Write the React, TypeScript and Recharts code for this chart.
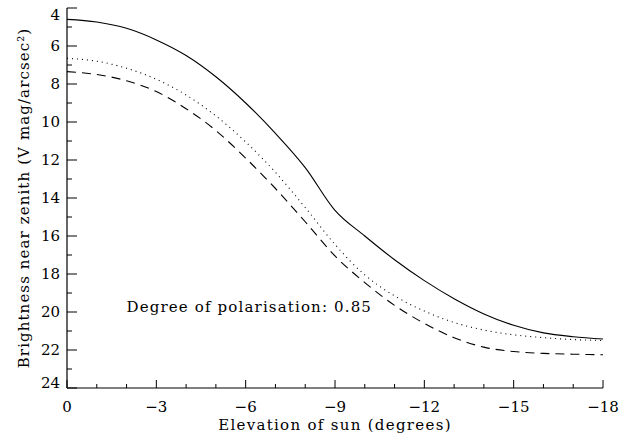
import React from "react";
import { LineChart, Line, XAxis, YAxis, ReferenceDot, Label } from "recharts";

// sun elevation (degrees) and zenith sky brightness (V mag/arcsec^2)
const elevation = [0, -1, -2, -3, -4, -5, -6, -7, -8, -9, -10, -11, -12, -13, -14, -15, -16, -17, -18];
const brightnessSolid = [4.6, 4.74, 5.07, 5.68, 6.5, 7.62, 9.0, 10.6, 12.4, 14.65, 16.0, 17.25, 18.35, 19.3, 20.1, 20.7, 21.1, 21.3, 21.42];
const brightnessDotted = [6.65, 6.8, 7.17, 7.75, 8.58, 9.68, 11.05, 12.65, 14.5, 16.45, 18.05, 19.15, 19.95, 20.55, 20.95, 21.2, 21.35, 21.45, 21.5];
const brightnessDashed = [7.35, 7.5, 7.83, 8.4, 9.3, 10.45, 11.9, 13.5, 15.25, 17.05, 18.45, 19.65, 20.6, 21.35, 21.85, 22.08, 22.18, 22.22, 22.25];

const xTicks = [0, -1, -2, -3, -4, -5, -6, -7, -8, -9, -10, -11, -12, -13, -14, -15, -16, -17, -18];
const yTicks = [4, 5, 6, 7, 8, 9, 10, 11, 12, 13, 14, 15, 16, 17, 18, 19, 20, 21, 22, 23, 24];

const data = elevation.map((e, i) => ({
  e,
  solid: brightnessSolid[i],
  dotted: brightnessDotted[i],
  dashed: brightnessDashed[i],
}));

const FONT = "'DejaVu Serif', serif";
const INK = "#000";

const fmtX = (v: number) => (v === 0 ? "0" : "\u2212" + Math.abs(v));

const BottomTick = (props: any) => {
  const { x, y, payload } = props;
  const major = payload.value % 3 === 0;
  return (
    <g>
      <line x1={x} y1={y} x2={x} y2={y - (major ? 8 : 4)} stroke={INK} />
      {major && (
        <text x={x} y={y + 24} textAnchor="middle" fontFamily={FONT} fontSize={15} fill={INK}>
          {fmtX(payload.value)}
        </text>
      )}
    </g>
  );
};

const TopTick = (props: any) => {
  const { x, y, payload } = props;
  const major = payload.value % 3 === 0;
  return <line x1={x} y1={y} x2={x} y2={y + (major ? 8 : 4)} stroke={INK} />;
};

const LeftTick = (props: any) => {
  const { x, y, payload } = props;
  const major = payload.value % 2 === 0;
  // first and last labels are kept inside the frame
  let base = y + 5;
  if (payload.value === 4) base = y + 12;
  if (payload.value === 24) base = y;
  return (
    <g>
      <line x1={x} y1={y} x2={x + (major ? 10 : 5)} y2={y} stroke={INK} />
      {major && (
        <text x={x - 7} y={base} textAnchor="end" fontFamily={FONT} fontSize={15} fill={INK}>
          {payload.value}
        </text>
      )}
    </g>
  );
};

const RightTick = (props: any) => {
  const { x, y, payload } = props;
  const major = payload.value % 2 === 0;
  return <line x1={x} y1={y} x2={x - (major ? 10 : 5)} y2={y} stroke={INK} />;
};

const YTitle = (props: any) => {
  const vb = props.viewBox;
  const cx = 29;
  const cy = vb.y + vb.height / 2;
  return (
    <text
      x={cx}
      y={cy}
      transform={`rotate(-90, ${cx}, ${cy})`}
      textAnchor="middle"
      fontFamily={FONT}
      fontSize={15}
      letterSpacing={1.1}
      fill={INK}
    >
      Brightness near zenith (V mag/arcsec²)
    </text>
  );
};

const XTitle = (props: any) => {
  const vb = props.viewBox;
  return (
    <text
      x={vb.x + vb.width / 2}
      y={vb.y + 42}
      textAnchor="middle"
      fontFamily={FONT}
      fontSize={15}
      letterSpacing={1.3}
      fill={INK}
    >
      Elevation of sun (degrees)
    </text>
  );
};

const Annotation = (props: any) => {
  const vb = props.viewBox;
  return (
    <text x={vb.x} y={vb.y} fontFamily={FONT} fontSize={15} letterSpacing={1.15} fill={INK}>
      Degree of polarisation: 0.85
    </text>
  );
};

export default function App() {
  return (
    <div style={{ position: "absolute", left: 0, top: 0, background: "#fff" }}>
      <LineChart
        width={639}
        height={438}
        data={data}
        margin={{ top: 8, right: 36, bottom: 0, left: 0 }}
        style={{ fontFamily: FONT }}
      >
        <XAxis
          dataKey="e"
          type="number"
          domain={[-18, 0]}
          reversed
          allowDataOverflow
          ticks={xTicks}
          interval={0}
          tick={<BottomTick />}
          tickLine={false}
          tickSize={0}
          tickMargin={0}
          height={50}
          axisLine={{ stroke: INK, strokeWidth: 1.2 }}
        >
          <Label content={<XTitle />} />
        </XAxis>
        <XAxis
          xAxisId="top"
          orientation="top"
          dataKey="e"
          type="number"
          domain={[-18, 0]}
          reversed
          allowDataOverflow
          ticks={xTicks}
          interval={0}
          tick={<TopTick />}
          tickLine={false}
          tickSize={0}
          tickMargin={0}
          height={0}
          axisLine={{ stroke: INK, strokeWidth: 1.2 }}
        />
        <YAxis
          type="number"
          domain={[4, 24]}
          reversed
          allowDataOverflow
          ticks={yTicks}
          interval={0}
          tick={<LeftTick />}
          tickLine={false}
          tickSize={0}
          tickMargin={0}
          width={67}
          axisLine={{ stroke: INK, strokeWidth: 1.2 }}
        >
          <Label content={<YTitle />} />
        </YAxis>
        <YAxis
          yAxisId="right"
          orientation="right"
          type="number"
          domain={[4, 24]}
          reversed
          allowDataOverflow
          ticks={yTicks}
          interval={0}
          tick={<RightTick />}
          tickLine={false}
          tickSize={0}
          tickMargin={0}
          width={0}
          axisLine={{ stroke: INK, strokeWidth: 1.2 }}
        />
        <Line
          name="solid"
          type="monotone"
          dataKey="solid"
          stroke={INK}
          strokeWidth={1.1}
          dot={false}
          activeDot={false}
          isAnimationActive={false}
        />
        <Line
          name="dotted"
          type="monotone"
          dataKey="dotted"
          stroke={INK}
          strokeWidth={1.1}
          strokeDasharray="1 4"
          dot={false}
          activeDot={false}
          isAnimationActive={false}
        />
        <Line
          name="dashed"
          type="monotone"
          dataKey="dashed"
          stroke={INK}
          strokeWidth={1.1}
          strokeDasharray="9 6"
          dot={false}
          activeDot={false}
          isAnimationActive={false}
        />
        <ReferenceDot x={-2} y={20} r={0} fill="none" stroke="none" label={<Annotation />} />
      </LineChart>
    </div>
  );
}
